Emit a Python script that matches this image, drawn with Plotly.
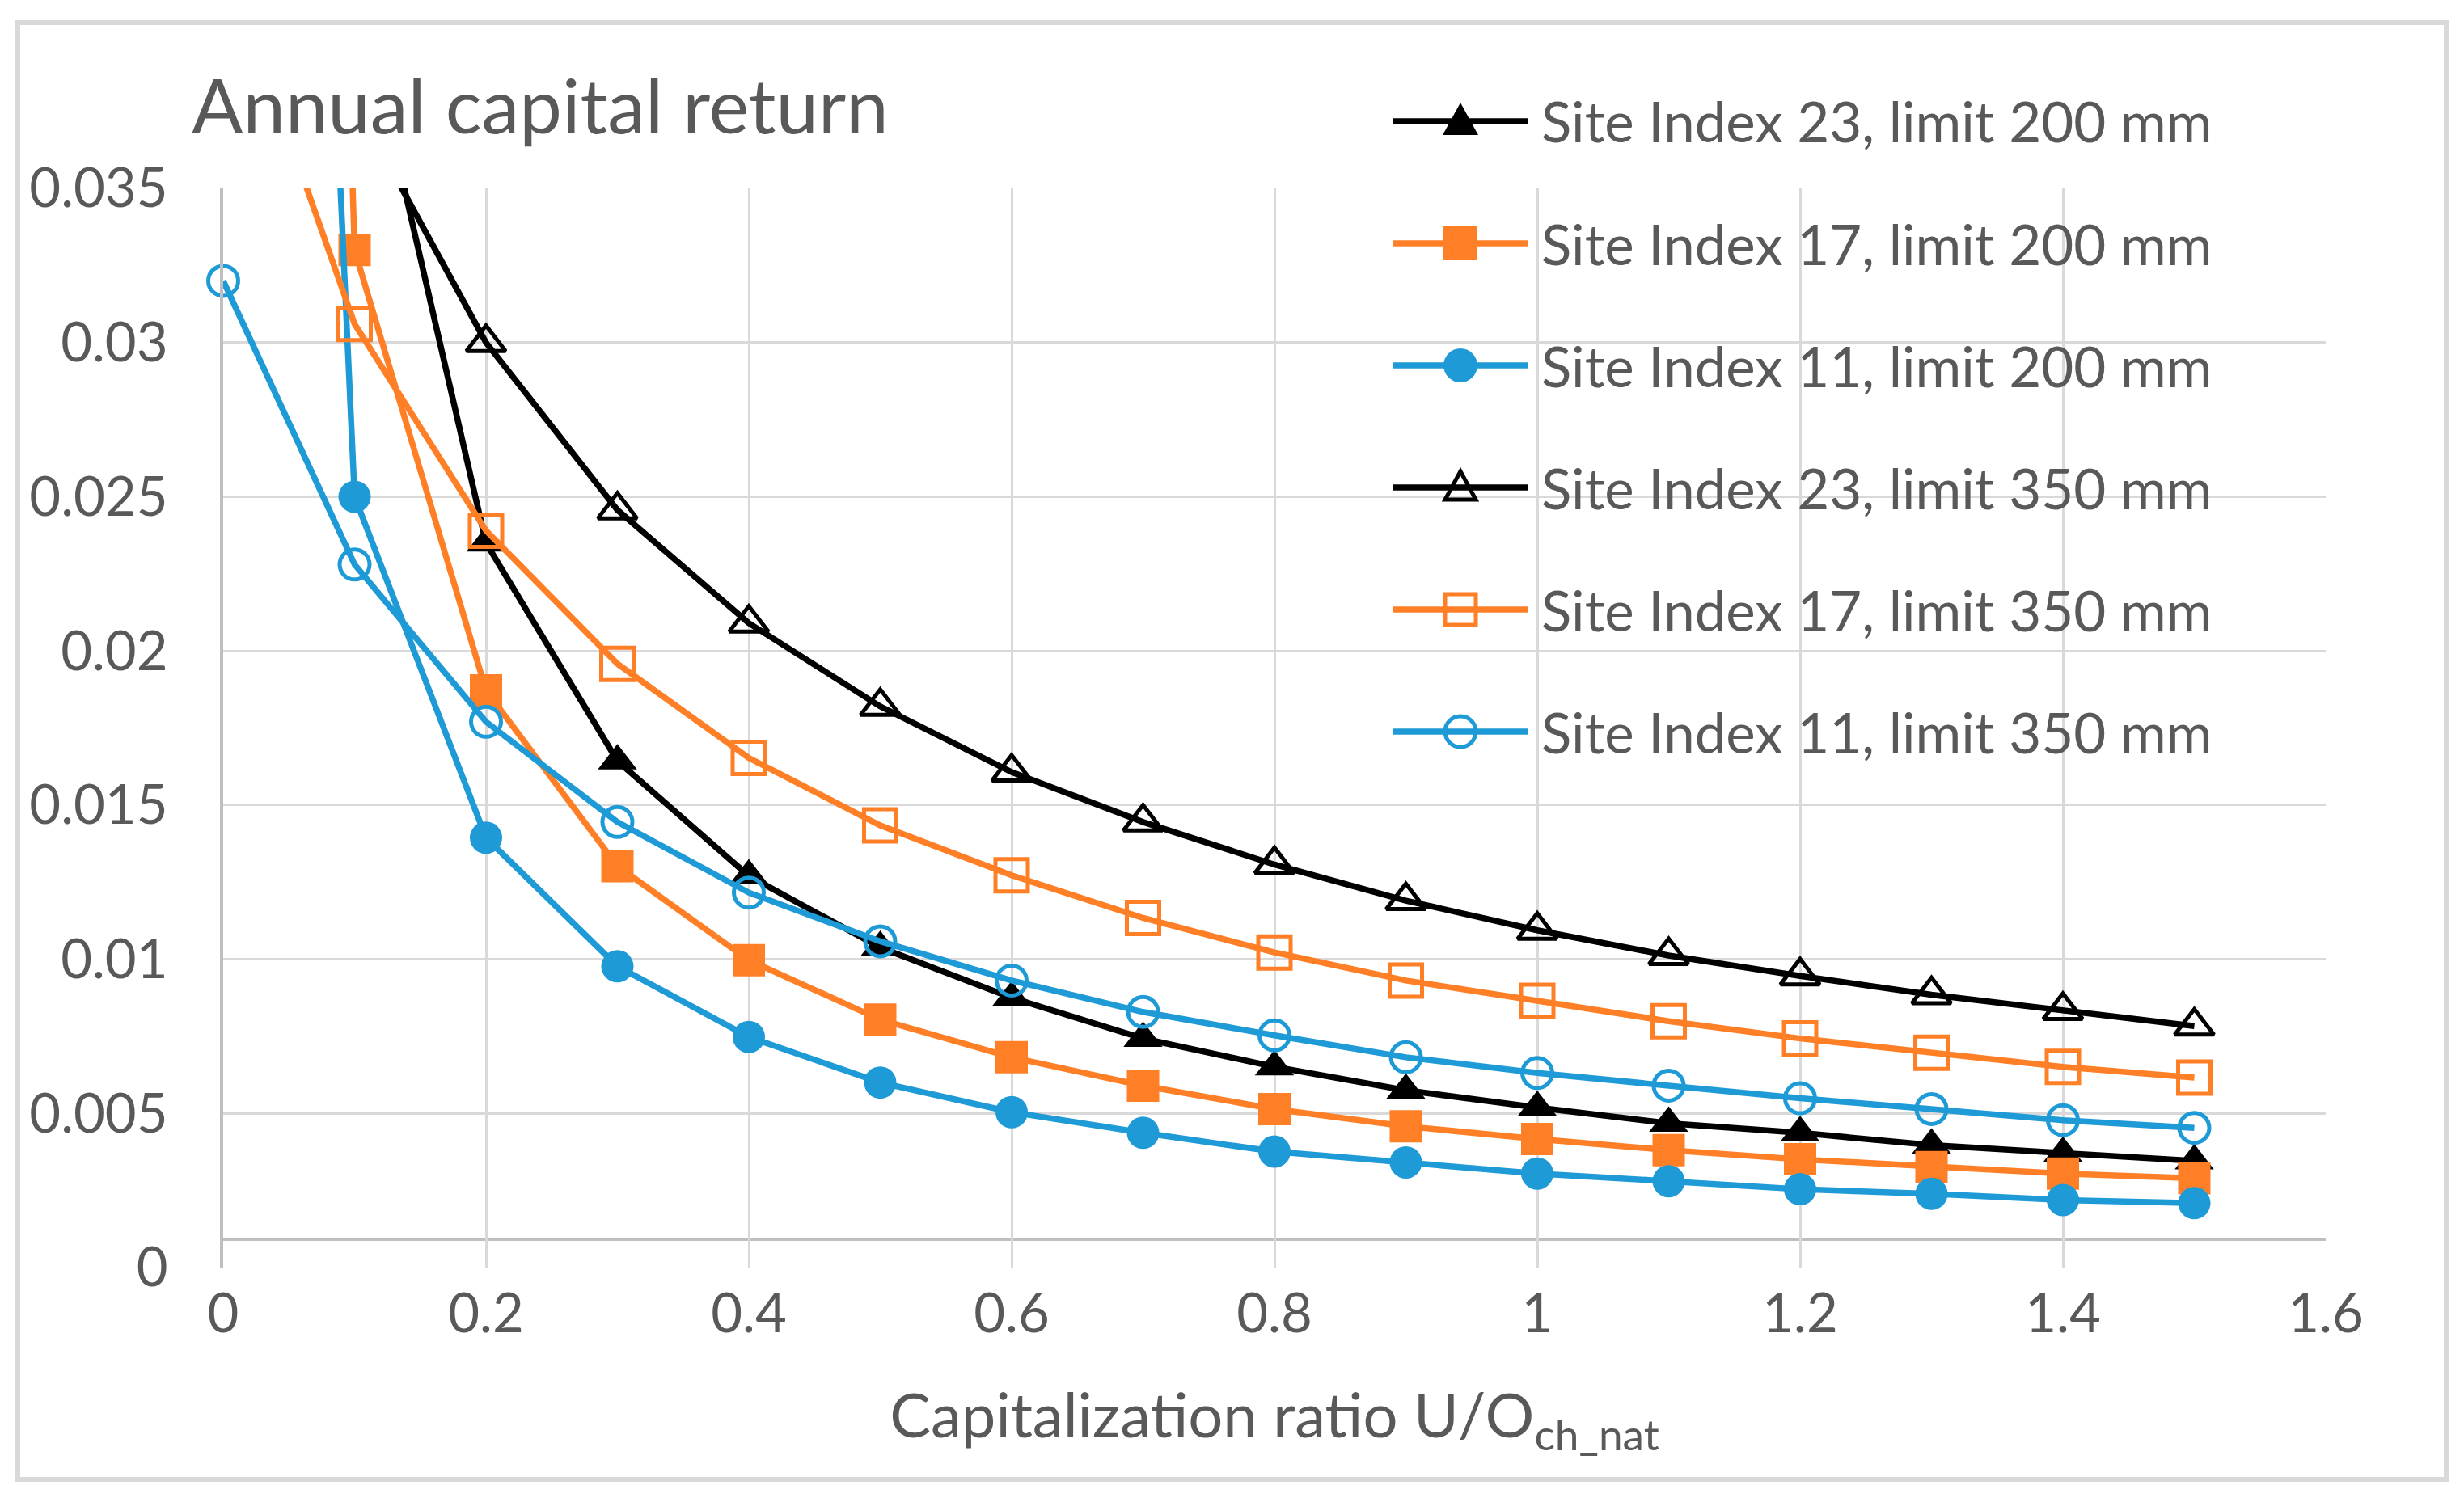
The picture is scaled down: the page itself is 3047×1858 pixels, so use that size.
import plotly.graph_objects as go

# ---- data ----
x_ratio = [0, 0.1, 0.2, 0.3, 0.4, 0.5, 0.6, 0.7, 0.8, 0.9, 1.0, 1.1, 1.2, 1.3, 1.4, 1.5]

si23_200 = [None, 0.042, 0.0235, 0.01643, 0.0127, 0.01038, 0.00875, 0.00743, 0.00651,
            0.00575, 0.00519, 0.00468, 0.00437, 0.00397, 0.0037, 0.00346]
si17_200 = [0.17, 0.033, 0.01872, 0.01302, 0.00997, 0.00804, 0.00682, 0.0059, 0.00514,
            0.00458, 0.00417, 0.00381, 0.00351, 0.00326, 0.00305, 0.0029]
si11_200 = [0.118, 0.025, 0.01394, 0.00977, 0.00748, 0.006, 0.00504, 0.00437, 0.00376,
            0.00341, 0.00305, 0.0028, 0.00254, 0.00239, 0.00219, 0.00209]
si23_350 = [None, 0.0378, 0.0300, 0.02457, 0.0209, 0.0182, 0.01607, 0.01445, 0.01307,
            0.0119, 0.01094, 0.01012, 0.00946, 0.00885, 0.00834, 0.00783]
si17_350 = [0.0427, 0.0306, 0.0239, 0.01958, 0.01653, 0.01434, 0.01272, 0.01134, 0.01022,
            0.00931, 0.00865, 0.00799, 0.00743, 0.00697, 0.00651, 0.00616]
si11_350 = [0.032, 0.0228, 0.0177, 0.01445, 0.01216, 0.01058, 0.00931, 0.00829, 0.00753,
            0.00682, 0.00631, 0.0059, 0.00549, 0.00514, 0.00478, 0.00453]

series_names = [
    "Site Index 23, limit 200 mm",
    "Site Index 17, limit 200 mm",
    "Site Index 11, limit 200 mm",
    "Site Index 23, limit 350 mm",
    "Site Index 17, limit 350 mm",
    "Site Index 11, limit 350 mm",
]

y_tick_vals = [0, 0.005, 0.01, 0.015, 0.02, 0.025, 0.03, 0.035]
y_tick_text = ["0", "0.005", "0.01", "0.015", "0.02", "0.025", "0.03", "0.035"]
x_tick_vals = [0, 0.2, 0.4, 0.6, 0.8, 1.0, 1.2, 1.4, 1.6]
x_tick_text = ["0", "0.2", "0.4", "0.6", "0.8", "1", "1.2", "1.4", "1.6"]

axis_cross_y = 0.00092   # the darker horizontal axis line sits just above zero

# ---- styling ----
BLACK = "#000000"
ORANGE = "#FF7F27"
BLUE = "#1E9AD6"
TEXT = "#595959"
GRID = "#D9D9D9"
AXIS = "#BFBFBF"
FONT = "Lato"
LINE_W = 7.5

PAGE_OFF = 8                      # default body margin of the html page
W, H = 3047 - PAGE_OFF, 1858 - PAGE_OFF
PLOT_L, PLOT_R, PLOT_T, PLOT_B = 276, 2876, 233, 1568   # page pixels of the plot area
ML = PLOT_L - PAGE_OFF
MT = PLOT_T - PAGE_OFF
MR = W - (PLOT_R - PAGE_OFF)
MB = H - (PLOT_B - PAGE_OFF)

styles = [
    dict(color=BLACK, symbol="triangle-up", size=42, lw=0, kind="tri", filled=True),
    dict(color=ORANGE, symbol="square", size=40, lw=0, kind="sq", filled=True),
    dict(color=BLUE, symbol="circle", size=40, lw=0, kind="circ", filled=True),
    dict(color=BLACK, symbol="triangle-up-open", size=42, lw=5, kind="tri", filled=False),
    dict(color=ORANGE, symbol="square-open", size=40, lw=5, kind="sq", filled=False),
    dict(color=BLUE, symbol="circle-open", size=37, lw=5, kind="circ", filled=False),
]
values = [si23_200, si17_200, si11_200, si23_350, si17_350, si11_350]

fig = go.Figure()
for i, (name, vals, st) in enumerate(zip(series_names, values, styles)):
    fig.add_trace(go.Scatter(
        x=x_ratio, y=vals, name=name, mode="lines+markers",
        line=dict(color=st["color"], width=LINE_W),
        marker=dict(symbol=st["symbol"], size=st["size"], color=st["color"],
                    line=dict(width=st["lw"], color=st["color"])),
        cliponaxis=(i != 5),
        connectgaps=False,
        showlegend=False,
    ))

def px_to_paper_x(px):
    return (px - PLOT_L) / (PLOT_R - PLOT_L)

def py_to_paper_y(py):
    return (PLOT_B - py) / (PLOT_B - PLOT_T)

shapes = [
    dict(type="rect", xref="paper", yref="paper",
         x0=px_to_paper_x(22), x1=px_to_paper_x(3025),
         y0=py_to_paper_y(1830), y1=py_to_paper_y(28),
         line=dict(color=GRID, width=6), fillcolor="rgba(0,0,0,0)", layer="below"),
    dict(type="line", xref="paper", yref="y", x0=0, x1=1,
         y0=axis_cross_y, y1=axis_cross_y,
         line=dict(color=AXIS, width=4), layer="below"),
]
annotations = []

# ---- legend drawn in Excel style (long sample line, big marker) ----
LEG_LINE_X0, LEG_LINE_X1, LEG_MARK_X, LEG_TEXT_X = 1723, 1889, 1806, 1904
LEG_ROW0, LEG_ROW_STEP = 150, 151
for i, (name, st) in enumerate(zip(series_names, styles)):
    ry = py_to_paper_y(LEG_ROW0 + i * LEG_ROW_STEP)
    mx = px_to_paper_x(LEG_MARK_X)
    shapes.append(dict(type="line", xref="paper", yref="paper",
                       x0=px_to_paper_x(LEG_LINE_X0), x1=px_to_paper_x(LEG_LINE_X1),
                       y0=ry, y1=ry, line=dict(color=st["color"], width=LINE_W)))
    fill = st["color"] if st["filled"] else "rgba(0,0,0,0)"
    lw = 0 if st["filled"] else 5
    common = dict(xref="paper", yref="paper", xsizemode="pixel", ysizemode="pixel",
                  xanchor=mx, yanchor=ry, fillcolor=fill,
                  line=dict(color=st["color"], width=lw))
    if st["kind"] == "circ":
        r = 21 if st["filled"] else 19
        shapes.append(dict(type="circle", x0=-r, x1=r, y0=-r, y1=r, **common))
    elif st["kind"] == "sq":
        r = 21 if st["filled"] else 19
        shapes.append(dict(type="rect", x0=-r, x1=r, y0=-r, y1=r, **common))
    else:
        if st["filled"]:
            path = "M-22,-17 L22,-17 L0,23 Z"
        else:
            path = "M-19,-15 L19,-15 L0,20 Z"
        shapes.append(dict(type="path", path=path, **common))
    annotations.append(dict(xref="paper", yref="paper", x=px_to_paper_x(LEG_TEXT_X), y=ry,
                            xanchor="left", yanchor="middle", showarrow=False, text=name,
                            font=dict(family=FONT, size=69, color=TEXT)))

fig.update_layout(
    width=W, height=H,
    margin=dict(l=ML, r=MR, t=MT, b=MB, pad=0, autoexpand=False),
    paper_bgcolor="white", plot_bgcolor="white",
    font=dict(family=FONT, color=TEXT, size=66),
    title=dict(text="Annual capital return", x=(237 - PAGE_OFF) / W, xanchor="left",
               y=1 - (132 - PAGE_OFF) / H, yanchor="middle", xref="container", yref="container",
               font=dict(family=FONT, size=94, color=TEXT)),
    showlegend=False,
    xaxis=dict(
        range=[0, 1.6], tickvals=x_tick_vals, ticktext=x_tick_text,
        showgrid=True, gridcolor=GRID, gridwidth=3,
        zeroline=False, showline=False, ticks="",
        ticklabelstandoff=12,
        tickfont=dict(family=FONT, size=67, color=TEXT),
        title=dict(text="Capitalization ratio U/O<sub>ch_nat</sub>",
                   font=dict(family=FONT, size=76, color=TEXT), standoff=63),
    ),
    yaxis=dict(
        range=[0, 0.035], tickvals=y_tick_vals, ticktext=y_tick_text,
        showgrid=True, gridcolor=GRID, gridwidth=3,
        zeroline=False, showline=True, linecolor=AXIS, linewidth=4, ticks="",
        ticklabelstandoff=51,
        tickfont=dict(family=FONT, size=67, color=TEXT),
    ),
    shapes=shapes,
    annotations=annotations,
)

fig.write_html("out.html")
